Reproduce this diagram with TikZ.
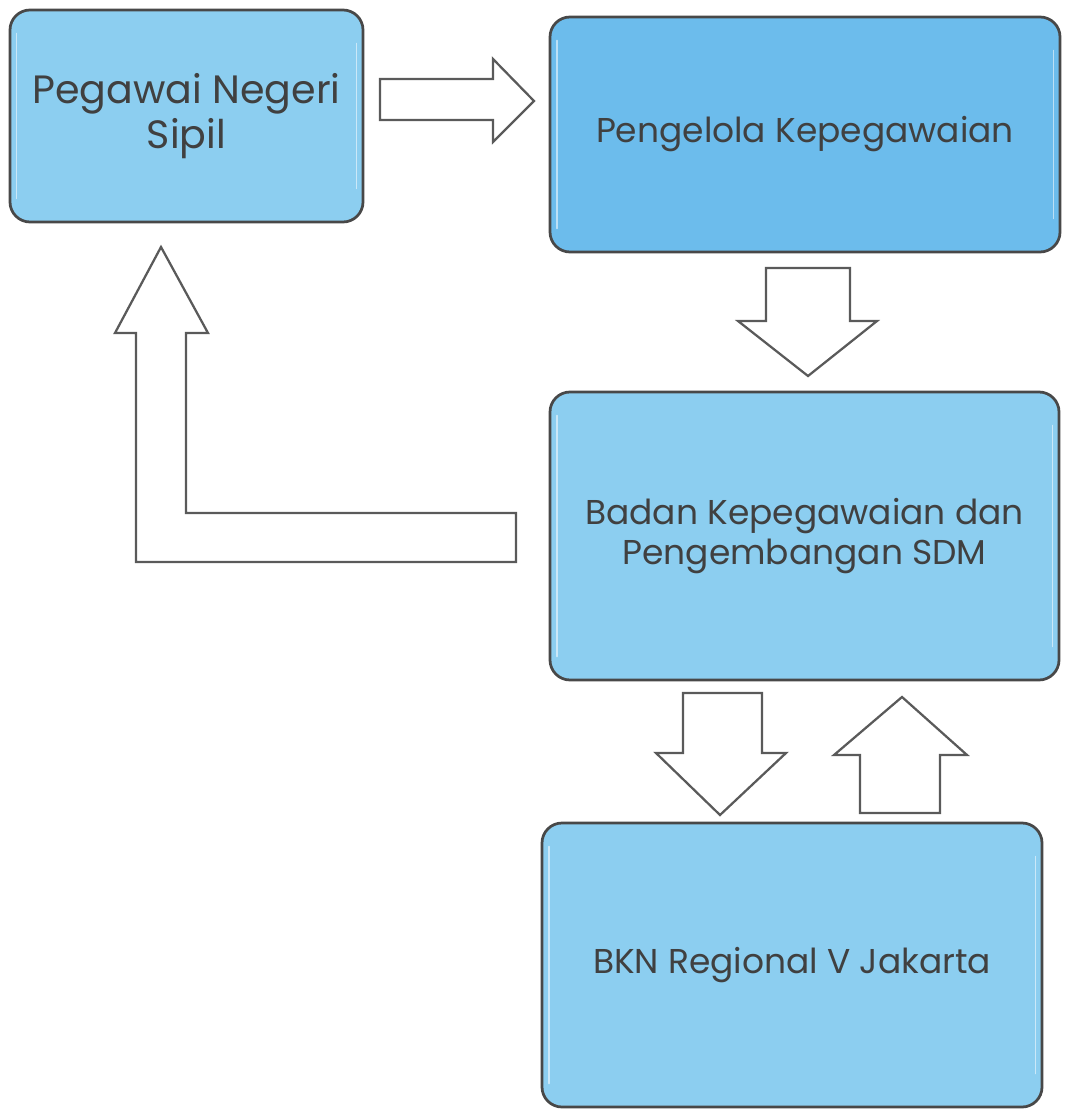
\documentclass[tikz,border=0pt]{standalone}
\usepackage{fontspec}
\setmainfont{Poppins}
\usetikzlibrary{positioning}
\definecolor{boxblue}{RGB}{140,206,240}
\definecolor{boxdeep}{RGB}{108,188,236}
\definecolor{rim}{RGB}{72,72,72}
\definecolor{ink}{RGB}{64,64,64}
\tikzset{
        box/.style={draw=rim,line width=0.55mm,rounded corners=4mm,fill=boxblue,
                    text=ink,align=center,inner sep=0pt,
                    font=\fontsize{19.6}{23}\selectfont},
        blockarrow/.style={draw=rim!90,line width=0.45mm,fill=white,line join=miter},
        gloss/.style={white,opacity=0.55,line width=0.35mm,line cap=round},
        }

\begin{document}
\begin{tikzpicture}[x=0.2mm,y=-0.2mm]
	\useasboundingbox (0,0) rectangle (1068,1109);

	% boxes...................
	\node [box,minimum width=70.6mm,minimum height=42.4mm,font=\fontsize{22.5}{25.6}\selectfont] (pns) at (186.5,116) {Pegawai Negeri\\Sipil};
	\node [box,fill=boxdeep,minimum width=102mm,minimum height=47mm] (pengelola) at (805,134.5) {Pengelola Kepegawaian};
	\node [box,minimum width=101.8mm,minimum height=57.6mm] (bkpsdm) at (804.5,536) {Badan Kepegawaian dan\\Pengembangan SDM};
	\node [box,minimum width=100mm,minimum height=56.8mm] (bkn) at (792,965) {BKN Regional V Jakarta};

	% glossy edges............
	\foreach \b in {pns,pengelola,bkpsdm,bkn} {
		\draw [gloss] ([xshift=1.6mm,yshift=-5mm]\b.north west) -- ([xshift=1.6mm,yshift=5mm]\b.south west);
		\draw [gloss] ([xshift=-1.6mm,yshift=-7mm]\b.north east) -- ([xshift=-1.6mm,yshift=7mm]\b.south east);
	}

	% PNS to pengelola........
	\draw [blockarrow] (380,79) -- (493,79) -- (493,59) -- (534,101) -- (493,142) -- (493,120) -- (380,120) -- cycle;

	% pengelola to BKPSDM.....
	\draw [blockarrow] (766,268) -- (850,268) -- (850,321) -- (877,321) -- (808,376) -- (738,321) -- (766,321) -- cycle;

	% BKPSDM back to PNS......
	\draw [blockarrow] (516,513) -- (186,513) -- (186,333) -- (208,333) -- (161,247) -- (115,333) -- (136,333) -- (136,562) -- (516,562) -- cycle;

	% BKPSDM and BKN..........
	\draw [blockarrow] (683,693) -- (762,693) -- (762,753) -- (786,753) -- (720,815) -- (656,753) -- (683,753) -- cycle;
	\draw [blockarrow] (860,813) -- (940,813) -- (940,755) -- (967,755) -- (902,697) -- (834,755) -- (860,755) -- cycle;
\end{tikzpicture}
\end{document}
